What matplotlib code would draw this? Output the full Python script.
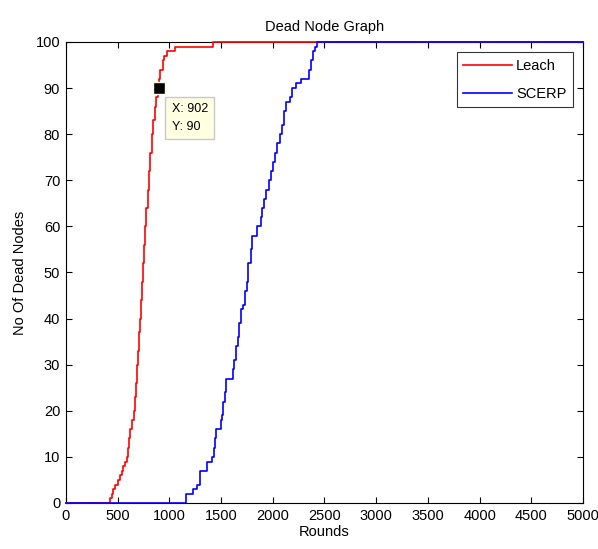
import matplotlib
matplotlib.use("Agg")
import matplotlib.pyplot as plt

plt.rcParams['font.family'] = ['Liberation Sans', 'DejaVu Sans']

# Leach: dead-node count reached at given round (step function)
leach_rounds = [0, 430, 445, 460, 475, 500, 520, 540, 555, 570, 590, 600, 615, 625, 640,
                655, 665, 680, 693, 700, 710, 716, 725, 735, 742, 755, 770, 780, 790,
                800, 815, 830, 845, 860, 870, 890, 905, 915, 935, 950, 975, 1060, 1420, 5000]
leach_dead = [0, 1, 2, 3, 4, 5, 6, 7, 8, 9, 10, 12, 14, 16, 18,
              20, 23, 26, 30, 33, 37, 40, 44, 48, 52, 56, 60, 64, 68,
              72, 76, 80, 83, 86, 88, 90, 92, 94, 96, 97, 98, 99, 100, 100]

# SCERP
scerp_rounds = [0, 1160, 1165, 1231, 1270, 1296, 1300, 1361, 1418, 1431, 1440, 1451, 1499,
                1512, 1521, 1535, 1544, 1612, 1630, 1641, 1660, 1673, 1689, 1709, 1731,
                1747, 1763, 1786, 1800, 1844, 1883, 1900, 1918, 1935, 1963, 1980, 2005,
                2020, 2040, 2070, 2086, 2110, 2130, 2166, 2190, 2221, 2240, 2269, 2350,
                2369, 2392, 2410, 2424, 5000]
scerp_dead = [0, 1, 2, 3, 4, 5, 7, 9, 10, 12, 14, 16, 18,
              19, 22, 24, 27, 29, 31, 34, 36, 39, 42, 43, 46,
              48, 52, 55, 58, 60, 62, 64, 66, 68, 70, 72, 74,
              76, 78, 80, 82, 85, 87, 88, 90, 91, 91, 92, 94,
              96, 98, 99, 100, 100]

tip_x, tip_y = 902, 90
x_ticks = list(range(0, 5001, 500))
y_ticks = list(range(0, 101, 10))

fig = plt.figure(figsize=(5.98, 5.49), dpi=100)
ax = fig.add_axes([0.110, 0.0838, 0.865, 0.8397])

ax.step(leach_rounds, leach_dead, where='post', color='#ff0000', lw=1.2, label='Leach',
        zorder=3, clip_on=False)
ax.step(scerp_rounds, scerp_dead, where='post', color='#0000ff', lw=1.2, label='SCERP',
        zorder=3.1, clip_on=False)

ax.plot([tip_x], [tip_y], marker='s', ms=8, color='black', mec='#ffffe1', mew=1.0,
        zorder=5, clip_on=False)
ax.annotate(f"X: {tip_x}\nY: {tip_y}", xy=(tip_x, tip_y), xytext=(9, -11),
            textcoords='offset points', ha='left', va='top', fontsize=9,
            linespacing=1.6,
            bbox=dict(boxstyle='square,pad=0.5', fc='#ffffe1', ec='#c8c8c8', lw=1.0),
            zorder=6)

ax.set_xlim(0, 5000)
ax.set_ylim(0, 100)
ax.set_xticks(x_ticks)
ax.set_yticks(y_ticks)
ax.tick_params(direction='in', top=True, right=True, labelsize=10.5, length=4,
               width=0.8, pad=4)
for s in ax.spines.values():
    s.set_linewidth(0.8)
    s.set_color('black')

ax.set_title('Dead Node Graph', fontsize=10.5, pad=8)
ax.set_xlabel('Rounds', fontsize=10.5, labelpad=2)
ax.set_ylabel('No Of Dead Nodes', fontsize=10.5, labelpad=6)

leg = ax.legend(loc='upper right', fontsize=10.5, frameon=True, fancybox=False,
                edgecolor='black', borderaxespad=0.7, handlelength=3.3,
                handletextpad=0.3, borderpad=0.45, labelspacing=0.95)
leg.get_frame().set_linewidth(0.8)
leg.set_zorder(10)

fig.savefig('out.png', dpi=100)
